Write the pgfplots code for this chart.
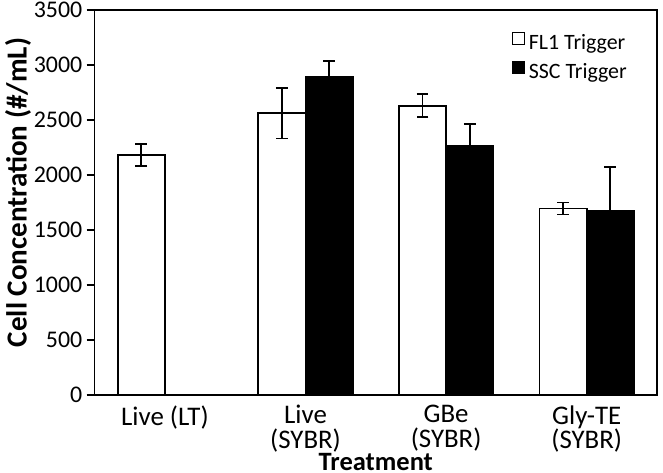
\documentclass[border=0pt]{standalone}
\usepackage{fontspec}
\setmainfont{Carlito}
\usepackage{pgfplots}
\pgfplotsset{compat=1.18}

\protected\def\tightticks{\fontsize{13.5}{12.3}\selectfont\lineskiplimit=-100pt\relax\lineskip=0pt\relax}

\pgfplotstableread{
x  fl1   fl1err  ssc   sscerr
0  2180  100     nan   nan
1  2560  230     2895  140
2  2628  105     2268  195
3  1695  55      1670  405
}\cells

\begin{document}
\begin{tikzpicture}
\begin{axis}[
  width=282.5pt, height=193.5pt, scale only axis,
  ybar=0pt, bar width=23.75pt,
  xmin=-0.5, xmax=3.5,
  ymin=0, ymax=3500, ytick={0,500,...,3500},
  xtick={0,1,2,3},
  xtick pos=bottom, ytick pos=left,
  xticklabels={Live (LT),{Live\\(SYBR)},{GBe\\(SYBR)},{Gly-TE\\(SYBR)}},
  xticklabel style={align=center, anchor=north, inner sep=2pt, yshift=1pt,
    font=\tightticks},
  yticklabel style={font=\fontsize{12}{13}\selectfont, inner sep=1pt, xshift=-1pt},
  major x tick style={draw=none},
  extra x ticks={0.5,1.5,2.5,3.5},
  extra x tick labels={},
  extra x tick style={tick align=outside, major tick length=4pt,
    major tick style={draw=black, line width=0.8pt}},
  ytick align=outside, major tick length=4pt,
  tick style={black, line width=0.8pt},
  axis line style={black, line width=0.8pt},
  xlabel={\textbf{Treatment}},
  ylabel={\textbf{Cell Concentration (\#/mL)}},
  xlabel style={at={(axis description cs:0.5,0)}, anchor=base, yshift=-38pt,
    inner sep=1pt, font=\fontsize{13.3}{14}\selectfont},
  % the label is rotated, so xshift runs along it and yshift across it
  ylabel style={at={(axis description cs:0,0.5)}, anchor=center, inner sep=2.5pt,
    yshift=38.5pt, xshift=5pt, font=\fontsize{14.6}{15}\selectfont},
  /pgf/number format/assume math mode=true,
  scaled y ticks=false,
  yticklabel={\pgfmathprintnumber[fixed,1000 sep={}]{\tick}},
  legend style={draw=none, fill=none, at={(1,1)}, anchor=north east,
    xshift=-13pt, yshift=-10pt, inner sep=0pt,
    font=\fontsize{11}{13}\selectfont, row sep=1.5pt},
  legend cell align=left,
  legend image code/.code={\draw[#1, line width=0.5pt] (1pt,-0.5pt) rectangle (7pt,5.5pt);},
  error bars/error bar style={line width=0.9pt, black},
  error bars/error mark options={rotate=90, mark size=3pt, line width=0.9pt, black},
]
\addplot[draw=black, fill=white, line width=0.9pt,
  error bars/.cd, y dir=both, y explicit]
  table[x=x, y=fl1, y error=fl1err] {\cells};
\addplot[draw=black, fill=black, line width=0.9pt,
  error bars/.cd, y dir=both, y explicit]
  table[x=x, y=ssc, y error=sscerr] {\cells};
\legend{FL1 Trigger, SSC Trigger}
\end{axis}
\path (current axis.east) ++(3pt,0);
\end{tikzpicture}
\end{document}
